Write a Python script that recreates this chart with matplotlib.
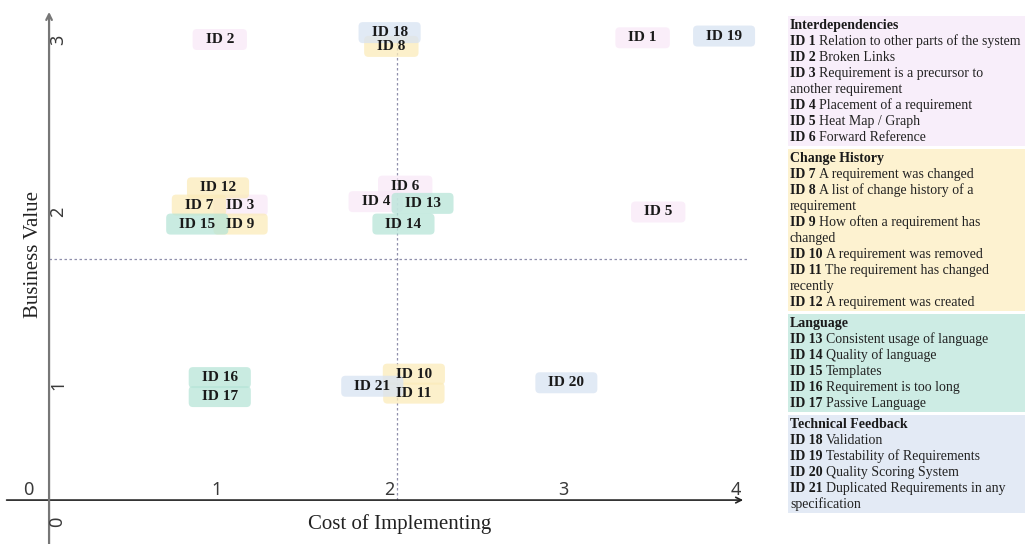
import matplotlib
matplotlib.use('Agg')
import matplotlib.pyplot as plt
from matplotlib.patches import FancyBboxPatch, Rectangle

# data (cost, value) for each requirement feature
ids = list(range(1, 22))
cost = [3.46, 1.02, 1.14, 1.92, 3.55, 2.09, 0.90, 2.01, 1.14, 2.14, 2.14,
        1.01, 2.19, 2.08, 0.89, 1.02, 1.02, 2.00, 3.93, 3.02, 1.90]
value = [3.01, 3.00, 2.04, 2.06, 2.00, 2.15, 2.04, 2.96, 1.93, 1.06, 0.95,
         2.14, 2.05, 1.93, 1.93, 1.04, 0.93, 3.04, 3.02, 1.01, 0.99]
groups = ['Interdependencies', 'Change History', 'Language', 'Technical Feedback']
group_of = [0] * 6 + [1] * 6 + [2] * 5 + [3] * 4

descriptions = [
    'Relation to other parts of the system',
    'Broken Links',
    'Requirement is a precursor to\nanother requirement',
    'Placement of a requirement',
    'Heat Map / Graph',
    'Forward Reference',
    'A requirement was changed',
    'A list of change history of a\nrequirement',
    'How often a requirement has\nchanged',
    'A requirement was removed',
    'The requirement has changed\nrecently',
    'A requirement was created',
    'Consistent usage of language',
    'Quality of language',
    'Templates',
    'Requirement is too long',
    'Passive Language',
    'Validation',
    'Testability of Requirements',
    'Quality Scoring System',
    'Duplicated Requirements in any\nspecification',
]

x_ticks = [0, 1, 2, 3, 4]
y_ticks = [0, 1, 2, 3]
x_split = 2.04   # dotted quadrant lines
y_split = 1.73

box_colors = ['#f9e9f8', '#fbebba', '#b7e5d8', '#d8e3f2']
panel_colors = ['#f8eefa', '#fdf2d0', '#cdece4', '#e3eaf5']

W, H = 1029, 544
SX, SY = 173.3, 172.5  # pixels per data unit
serif = 'Liberation Serif'

fig = plt.figure(figsize=(W / 100, H / 100), dpi=100)
ax = fig.add_axes([0, 0, 1, 1])
ax.set_xlim(-43 / SX, (W - 43) / SX)
ax.set_ylim((557 - H) / SY, 557 / SY)
ax.axis('off')
renderer = fig.canvas.get_renderer()

origin_x, origin_y = 0.035, 0.33

# axis lines
ax.annotate('', xy=(4.04, origin_y), xytext=(-0.21, origin_y),
            arrowprops=dict(arrowstyle='->', color='#222222', lw=1.2,
                            shrinkA=0, shrinkB=0))
ax.annotate('', xy=(origin_x, 3.16), xytext=(origin_x, 0.07),
            arrowprops=dict(arrowstyle='->', color='#777777', lw=1.6,
                            shrinkA=0, shrinkB=0))

# quadrant lines
ax.plot([x_split, x_split], [origin_y, 3.08], ls=(0, (2, 2)), color='#8f8fab', lw=0.9)
ax.plot([origin_x, 4.07], [y_split, y_split], ls=(0, (2, 2)), color='#8f8fab', lw=0.9)

# tick labels
tick_kw = dict(fontsize=13, color='#3a3a3a', family='Noto Sans', ha='center', va='center')
for v in x_ticks:
    ax.text(v if v else -0.087, 0.388, str(v), **tick_kw)
for v in y_ticks:
    ax.text(0.087 if v else 0.081, v if v else 0.203, str(v), rotation=90, **tick_kw)

fig.text(33 / W, 1 - 255 / H, 'Business Value', rotation=90, ha='center', va='center',
         family=serif, fontsize=15, color='#222222')
fig.text(400 / W, 1 - 524 / H, 'Cost of Implementing', ha='center', va='center',
         family=serif, fontsize=15, color='#222222')

# labels with rounded boxes
texts = []
for i, x, y, g in zip(ids, cost, value, group_of):
    t = ax.text(x, y, f'ID {i}', ha='center', va='center', family=serif,
                weight='bold', fontsize=11, color='#1a1a1a', zorder=5)
    texts.append((t, x, y, g))
for t, x, y, g in texts:
    w = t.get_window_extent(renderer).width
    bw = (w + 26) / SX
    bh = 21 / SY
    box = FancyBboxPatch((x - bw / 2, y - bh / 2), bw, bh,
                         boxstyle='round,pad=0,rounding_size=0.025',
                         fc=box_colors[g], ec='none', alpha=0.75, zorder=3)
    ax.add_patch(box)

# legend panel on the right
left, right = 788, 1025
line_h = 16.0
fs = 10
top = 16
for gi, name in enumerate(groups):
    lines = [('', name)]
    for i, d in zip(ids, descriptions):
        if group_of[i - 1] != gi:
            continue
        parts = d.split('\n')
        lines.append((f'ID {i}', parts[0]))
        for p in parts[1:]:
            lines.append(('', p))
    height = len(lines) * line_h + 2
    fig.add_artist(Rectangle((left / W, 1 - (top + height) / H), (right - left) / W,
                             height / H, transform=fig.transFigure,
                             fc=panel_colors[gi], ec='none', zorder=0))
    for k, (bold, rest) in enumerate(lines):
        yb = 1 - (top + 13 + k * line_h) / H   # baseline
        if k == 0:
            fig.text(790 / W, yb, rest, weight='bold', family=serif, fontsize=fs,
                     va='baseline', color='#1a1a1a')
        elif bold:
            b = fig.text(790 / W, yb, bold, weight='bold', family=serif, fontsize=fs,
                         va='baseline', color='#1a1a1a')
            bw = b.get_window_extent(renderer).width
            fig.text((790 + bw + 3.5) / W, yb, rest, family=serif, fontsize=fs,
                     va='baseline', color='#222222')
        else:
            fig.text(790 / W, yb, rest, family=serif, fontsize=fs,
                     va='baseline', color='#222222')
    top += height + 3

fig.savefig('out.png', dpi=100)
